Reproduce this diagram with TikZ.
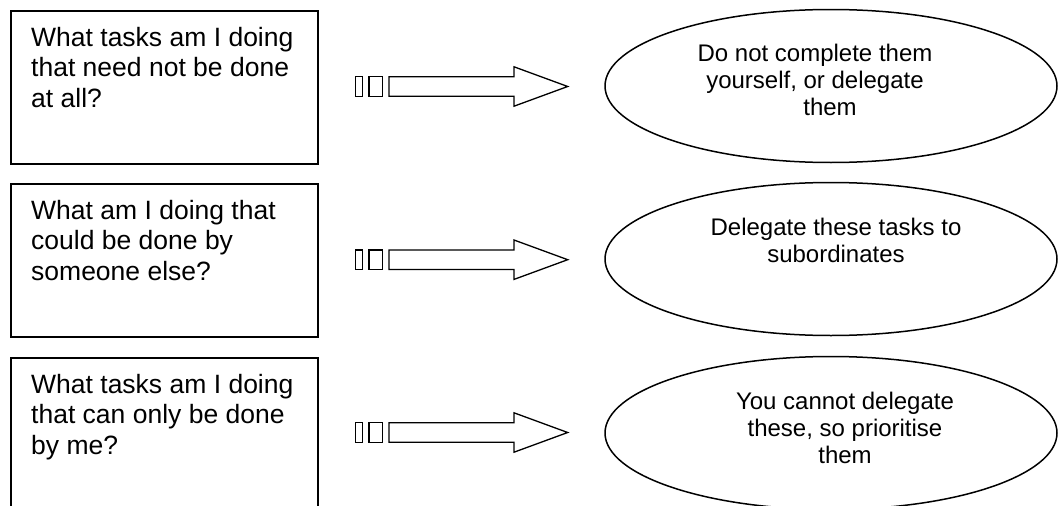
\documentclass[tikz,border=0pt]{standalone}
\usepackage{fontspec}
\setmainfont{Liberation Sans}
\usetikzlibrary{shapes.geometric}
\tikzset{
  qbox/.style={draw, line width=1.6pt, minimum width=307pt, minimum height=153pt, anchor=north west, inner sep=0pt},
  ans/.style={draw, ellipse, line width=1.5pt, minimum width=452pt, minimum height=153pt, inner sep=0pt},
  qtext/.style={anchor=north west, align=left, inner sep=0pt, font=\fontsize{26.5}{30.5}\selectfont},
  atext/.style={anchor=north, align=center, inner sep=0pt, font=\fontsize{24}{27}\selectfont},
  arrowline/.style={draw, line width=1.3pt, line join=miter},
  pics/blockarrow/.style={code={
    \path[arrowline] (0.7,-9.7) rectangle (7.7,9.7);
    \path[arrowline] (14,-9.7) rectangle (27.7,9.7);
    \path[arrowline] (34,-9.7) -- (159,-9.7) -- (159,-19.7) -- (212.7,0) -- (159,19.7) -- (159,9.7) -- (34,9.7) -- cycle;
  }}
}
\begin{document}
\begin{tikzpicture}[x=1pt,y=-1pt]
\useasboundingbox (0,0) rectangle (1058,506);
\clip (0,0) rectangle (1058,506);

% question boxes
\node[qbox] (q1) at (10,10) {};
\node[qbox] (q2) at (10,183) {};
\node[qbox] (q3) at (10,357) {};
\node[qtext] (t1) at ([shift={(21pt,-17pt)}]q1.north west) {What tasks am I doing\\that need not be done\\at all?};
\node[qtext] (t2) at ([shift={(21pt,-17pt)}]q2.north west) {What am I doing that\\could be done by\\someone else?};
\node[qtext] (t3) at ([shift={(21pt,-17pt)}]q3.north west) {What tasks am I doing\\that can only be done\\by me?};

% answer ellipses
\node[ans] (a1) at (831,86) {};
\node[ans] (a2) at (831,259) {};
\node[ans] (a3) at (831,433) {};
\node[atext] (u1) at (815,44) {Do not complete them\\yourself, or delegate\\\hspace*{30pt}them};
\node[atext] (u2) at (836,218) {Delegate these tasks to\\subordinates};
\node[atext] (u3) at (845,392) {You cannot delegate\\these, so prioritise\\them};

% block arrows
\coordinate (b1) at (355,86.5);
\coordinate (b2) at (355,259.7);
\coordinate (b3) at (355,432.5);
\pic at (b1) {blockarrow};
\pic at (b2) {blockarrow};
\pic at (b3) {blockarrow};
\end{tikzpicture}
\end{document}
